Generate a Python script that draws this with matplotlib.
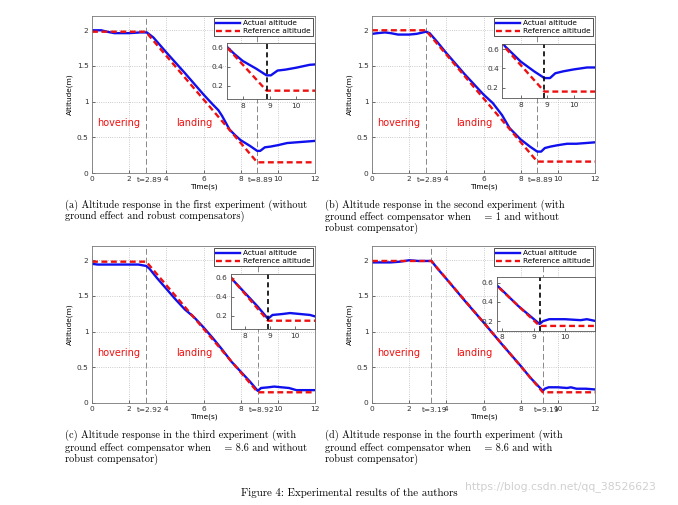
import numpy as np
import matplotlib
matplotlib.use("Agg")
import matplotlib.pyplot as plt

# actual altitude
t_a = [0, 0.5, 0.8, 1.2, 2.0, 2.6, 2.95, 3.3, 4, 5, 6, 6.5, 6.8, 7, 7.4, 7.7, 8, 8.5, 8.89, 9.05, 9.3, 9.6, 10, 10.5, 11, 11.5, 12]
h_a = [2.0, 2.0, 1.98, 1.96, 1.96, 1.97, 1.97, 1.9, 1.69, 1.4, 1.1, 0.96, 0.88, 0.8, 0.61, 0.53, 0.46, 0.38, 0.31, 0.31, 0.36, 0.37, 0.39, 0.42, 0.43, 0.44, 0.45]

t_b = [0, 0.3, 0.7, 1.0, 1.4, 2.0, 2.4, 2.9, 3.1, 3.5, 4, 5, 6, 6.5, 7, 7.4, 8, 8.5, 8.89, 9.1, 9.3, 9.6, 10, 10.5, 11, 11.5, 12]
h_b = [1.95, 1.96, 1.97, 1.96, 1.94, 1.94, 1.95, 1.98, 1.96, 1.84, 1.68, 1.38, 1.1, 0.98, 0.81, 0.63, 0.47, 0.37, 0.30, 0.30, 0.35, 0.37, 0.39, 0.41, 0.41, 0.42, 0.43]

t_c = [0, 0.3, 1, 2, 2.5, 2.92, 3.1, 3.5, 4, 4.5, 5, 5.5, 6, 6.5, 7, 7.5, 8, 8.5, 8.92, 9.1, 9.5, 9.8, 10.2, 10.6, 11, 11.5, 12]
h_c = [1.95, 1.94, 1.94, 1.94, 1.94, 1.92, 1.88, 1.75, 1.6, 1.45, 1.31, 1.2, 1.06, 0.91, 0.75, 0.58, 0.44, 0.3, 0.17, 0.21, 0.22, 0.23, 0.22, 0.21, 0.18, 0.18, 0.18]

t_d = [0, 0.5, 1, 1.5, 2, 2.5, 3.2, 3.5, 4, 5, 6, 7, 8, 8.5, 9.19, 9.3, 9.5, 10, 10.5, 10.7, 11, 11.5, 12]
h_d = [1.97, 1.97, 1.97, 1.98, 2.0, 1.99, 1.99, 1.89, 1.74, 1.43, 1.13, 0.82, 0.52, 0.36, 0.17, 0.2, 0.22, 0.22, 0.21, 0.22, 0.2, 0.2, 0.19]

# reference altitude break points
ref_t = [[0, 2.89, 8.89, 12], [0, 2.89, 8.89, 12], [0, 2.92, 8.92, 12], [0, 3.19, 9.19, 12]]
ref_h = [[1.98, 1.98, 0.15, 0.15], [2.0, 2.0, 0.16, 0.16], [1.98, 1.98, 0.15, 0.15], [1.99, 1.99, 0.15, 0.15]]

t_start = [2.89, 2.89, 2.92, 3.19]
t_end = [8.89, 8.89, 8.92, 9.19]

captions = [
    ["(a) Altitude response in the first experiment (without",
     "ground effect and robust compensators)"],
    ["(b) Altitude response in the second experiment (with",
     "ground effect compensator when    = 1 and without",
     "robust compensator)"],
    ["(c) Altitude response in the third experiment (with",
     "ground effect compensator when    = 8.6 and without",
     "robust compensator)"],
    ["(d) Altitude response in the fourth experiment (with",
     "ground effect compensator when    = 8.6 and with",
     "robust compensator)"],
]

actual_t = [t_a, t_b, t_c, t_d]
actual_h = [h_a, h_b, h_c, h_d]

# layout (figure fractions)
main_pos = [[0.1357, 0.6574, 0.3289, 0.3109], [0.5487, 0.6574, 0.3289, 0.3109],
            [0.1357, 0.2020, 0.3289, 0.3109], [0.5487, 0.2020, 0.3289, 0.3109]]
inset_pos = [[0.3344, 0.8034, 0.1302, 0.1109], [0.7409, 0.8053, 0.1367, 0.1069],
             [0.3403, 0.3479, 0.1243, 0.1089], [0.7326, 0.3451, 0.1450, 0.1057]]
inset_xlim = [(7.4, 10.7), (7.3, 10.8), (7.43, 10.8), (7.82, 10.96)]
inset_ylim = [(0.06, 0.645), (0.09, 0.65), (0.06, 0.635), (0.1, 0.656)]
cap_x = [0.096, 0.479, 0.096, 0.479]
cap_y = [0.594, 0.594, 0.137, 0.137]

blue = "#1010ee"
red = "#ee1010"
tick_fs = 5.3

fig = plt.figure(figsize=(6.78, 5.05), dpi=100)

for i in range(4):
    ax = fig.add_axes(main_pos[i])
    ax.plot(actual_t[i], actual_h[i], color=blue, lw=1.7, label="Actual altitude")
    ax.plot(ref_t[i], ref_h[i], color=red, lw=1.7, ls=(0, (2.5, 1.5)), label="Reference altitude")
    for tv in (t_start[i], t_end[i]):
        ax.axvline(tv, color="#888888", lw=0.7, ls=(0, (6, 3)), zorder=1)
    ax.set_xlim(0, 12)
    ax.set_ylim(0, 2.2)
    ax.set_xticks(range(0, 13, 2))
    ax.set_yticks([0, 0.5, 1, 1.5, 2])
    ax.set_yticklabels(["0", "0.5", "1", "1.5", "2"])
    ax.grid(True, ls=":", color="#bbbbbb", lw=0.6)
    ax.tick_params(labelsize=tick_fs, direction="in", length=2, width=0.5, pad=2.5, colors="#333333")
    for s in ax.spines.values():
        s.set_color("#777777")
        s.set_linewidth(0.6)
    ax.set_xlabel("Time(s)", fontsize=tick_fs, labelpad=1)
    ax.set_ylabel("Altitude(m)", fontsize=tick_fs, labelpad=3)
    ax.text(1.43, 0.7, "hovering", color=red, fontsize=7, ha="center", va="center")
    ax.text(5.5, 0.7, "landing", color=red, fontsize=7, ha="center", va="center")
    for tv in (t_start[i], t_end[i]):
        ax.text(tv + 0.2, -0.028, "t=%.2f" % tv, transform=ax.get_xaxis_transform(),
                fontsize=tick_fs, ha="center", va="top", color="#333333")
    leg = ax.legend(loc="upper right", fontsize=tick_fs, handlelength=3.2, borderaxespad=0.25,
                    borderpad=0.3, labelspacing=0.25, handletextpad=0.5, fancybox=False, framealpha=1)
    leg.get_frame().set_edgecolor("#333333")
    leg.get_frame().set_linewidth(0.6)

    ins = fig.add_axes(inset_pos[i])
    ins.plot(actual_t[i], actual_h[i], color=blue, lw=1.7)
    ins.plot(ref_t[i], ref_h[i], color=red, lw=1.7, ls=(0, (2.5, 1.5)))
    ins.axvline(t_end[i], color="black", lw=1.2, ls=(0, (3, 2)))
    ins.set_xlim(inset_xlim[i])
    ins.set_ylim(inset_ylim[i])
    ins.set_xticks([8, 9, 10])
    ins.set_yticks([0.2, 0.4, 0.6])
    ins.set_yticklabels(["0.2", "0.4", "0.6"])
    ins.tick_params(labelsize=tick_fs, direction="in", length=2, width=0.5, pad=2.5, colors="#333333")
    for s in ins.spines.values():
        s.set_color("#555555")
        s.set_linewidth(0.6)

    for j, line in enumerate(captions[i]):
        fig.text(cap_x[i], cap_y[i] - j * 0.0235, line, family="cmr10", fontsize=7.4,
                 ha="left", va="center")

fig.text(0.5155, 0.024, "Figure 4: Experimental results of the authors", family="cmr10",
         fontsize=7.9, ha="center", va="center")
fig.text(0.686, 0.036, "https://blog.csdn.net/qq_38526623", color="#d0d0d0",
         fontsize=7.8, ha="left", va="center")

fig.savefig("out.png", dpi=100)
